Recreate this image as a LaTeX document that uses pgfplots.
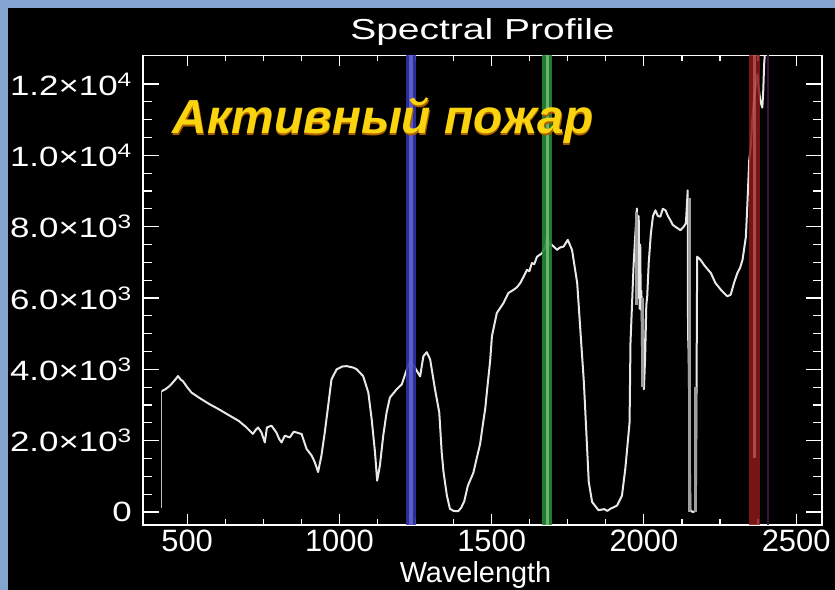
\documentclass[border=0pt]{standalone}
\usepackage{fontspec}
\setmainfont{Liberation Sans}
\newfontfamily\titlefont{Liberation Sans}[FakeStretch=1.35]
\newfontfamily\ylabfont{Liberation Sans}[FakeStretch=1.25]
\newfontfamily\rusfont{Liberation Sans}
\usepackage{pgfplots}
\pgfplotsset{compat=1.18}
\definecolor{bgblue}{RGB}{133,163,208}
\definecolor{curve}{RGB}{232,232,232}
\definecolor{bandblue}{RGB}{50,50,170}
\definecolor{bandblueL}{RGB}{105,105,215}
\definecolor{bandgreen}{RGB}{35,135,55}
\definecolor{bandgreenL}{RGB}{125,195,125}
\definecolor{bandred}{RGB}{140,25,25}
\definecolor{bandredL}{RGB}{205,110,110}
\definecolor{bandpurple}{RGB}{60,20,60}
\definecolor{fireyellow}{RGB}{250,212,15}
\definecolor{fireorange}{RGB}{170,95,0}
\begin{document}
\begin{tikzpicture}
\path[use as bounding box] (0,0) rectangle (835bp,590bp);
\fill[bgblue] (0,0) rectangle (835bp,590bp);
\fill[black] (7.5bp,0) rectangle (835bp,582bp);
\begin{axis}[
  at={(143bp,65bp)}, anchor=south west,
  scale only axis, width=679bp, height=469.5bp,
  xmin=355, xmax=2585, ymin=-365, ymax=12800,
  scaled y ticks=false, scaled x ticks=false,
  axis line style={draw=white, line width=1.5bp},
  every tick/.append style={draw=white, line width=1.2bp},
  major tick style={draw=white, line width=1.2bp},
  minor tick style={draw=white, line width=1.2bp},
  tick align=inside,
  major tick length=11bp, minor tick length=6bp,
  ytick style={/pgfplots/major tick length=16bp, /pgfplots/minor tick length=9bp},
  xtick={500,1000,1500,2000,2500},
  xticklabels={500,1000,1500,2000,2500},
  minor x tick num=3,
  ytick={0,2000,4000,6000,8000,10000,12000},
  yticklabels={0,2.0×10\textsuperscript{3},4.0×10\textsuperscript{3},6.0×10\textsuperscript{3},8.0×10\textsuperscript{3},1.0×10\textsuperscript{4},1.2×10\textsuperscript{4}},
  minor y tick num=3,
  xticklabel style={text=white, font=\fontsize{31}{33}\selectfont, anchor=north, inner sep=0pt, yshift=-5bp},
  yticklabel style={text=white, font=\ylabfont\fontsize{28}{30}\selectfont, anchor=east, inner sep=0pt, xshift=-11bp},
  title={\titlefont\fontsize{29}{32}\selectfont Spectral Profile},
  title style={at={(0.5,1)}, anchor=base, yshift=10bp, inner sep=0pt, text=white},
  xlabel={Wavelength},
  xlabel style={at={(0.5,0)}, anchor=north, yshift=-36bp, xshift=-7bp, inner sep=0pt, text=white, font=\fontsize{29}{31}\selectfont},
]
% faint start segment
\addplot[gray!55, line width=1.2bp] coordinates {(417,3390) (417,100)};
% spectral profile
\addplot[curve, line width=2bp, line join=round] coordinates {
(417,3390) (430,3450) (442,3530) (455,3650) (470,3810) (478,3720) (486,3670)
(500,3500) (514,3350) (540,3200) (574,3020) (600,2900) (640,2700) (670,2550)
(695,2370) (716,2190) (725,2300) (733,2370) (744,2230) (755,1950) (762,2370)
(777,2420) (793,2230) (802,2050) (810,1950) (821,2140) (837,2090) (850,2250)
(859,2230) (876,2185) (892,1770) (909,1580) (919,1400) (930,1120) (941,1580)
(952,2230) (963,2970) (974,3720) (991,4000) (1010,4080) (1024,4090) (1045,4050)
(1057,4000) (1078,3810) (1095,3350) (1106,2600) (1117,1670) (1124,880) (1133,1300)
(1144,2140) (1155,2790) (1166,3210) (1188,3440) (1205,3580) (1221,3990) (1232,4230)
(1248,4050) (1265,3800) (1276,4370) (1287,4480) (1298,4280) (1314,3440) (1328,2790)
(1336,1670) (1342,1120) (1353,460) (1363,90) (1375,30) (1390,20) (1400,120)
(1410,300) (1422,740) (1440,1100) (1453,1580) (1462,1900) (1472,2500) (1479,2900) (1486,3500)
(1495,4230) (1501,4930) (1517,5580) (1539,5860) (1555,6140) (1572,6230) (1583,6300)
(1594,6420) (1605,6600) (1616,6790) (1624,6750) (1632,6980) (1640,6950) (1649,7160)
(1665,7250) (1675,7400) (1682,7720) (1690,7500) (1698,7490) (1715,7350) (1725,7420)
(1736,7440) (1750,7630) (1764,7350) (1781,6420) (1792,5020) (1803,3630) (1811,2230)
(1819,840) (1830,280) (1851,50) (1870,80) (1880,30) (1890,90) (1912,180)
(1928,460) (1939,1210) (1953,2510) (1956,4740) (1966,6880) (1972,7800) (1977,8510)
(1980,6000) (1983,8300) (1986,5700) (1988,7500) (1990,5670) (1992,6200) (1994,4500) (1997,5500) (2000,3440) (2004,4300)
(2008,5800) (2011,6050) (2016,7000) (2023,7810) (2030,8300) (2038,8460) (2046,8300)
(2054,8280) (2062,8500) (2071,8460) (2079,8300) (2087,8180) (2095,8050) (2103,8000)
(2112,7950) (2120,7900) (2131,8000) (2138,8100) (2144,9020) (2145,5000) (2147,4460)
(2150,2000) (2153,50) (2160,0) (2168,20) (2171,500) (2173,3630) (2175,7160)
(2186,7070) (2200,6900) (2220,6700) (2235,6420) (2253,6230) (2263,6140) (2274,6050)
(2285,6090) (2296,6420) (2307,6700) (2316,6850) (2324,7070) (2335,7720) (2340,8650)
(2346,9860) (2351,10230) (2356,11000) (2362,11620) (2368,12000) (2373,12280) (2378,11810)
(2383,11500) (2389,11340) (2392,11800) (2395,12560) (2397,12800)
};
% dense parts drawn as thick grey bars
\addplot[gray!75, line width=3.5bp] coordinates {(1975,8400) (1975,5800)};
\addplot[gray!75, line width=3.5bp] coordinates {(1995,6000) (1995,3500)};
\addplot[gray!75, line width=3.5bp] coordinates {(2150,8800) (2150,0)};
\addplot[gray!75, line width=3.5bp] coordinates {(2169,3500) (2169,0)};
% band lines
\addplot[bandblue, line width=10bp, opacity=0.9] coordinates {(1235,-365) (1235,12800)};
\addplot[bandblueL, line width=3.5bp, opacity=0.8] coordinates {(1235,-365) (1235,12800)};
\addplot[bandgreen, line width=10bp, opacity=0.9] coordinates {(1683,-365) (1683,12800)};
\addplot[bandgreenL, line width=3.5bp, opacity=0.8] coordinates {(1683,-365) (1683,12800)};
\addplot[bandred, line width=11bp, opacity=0.85] coordinates {(2364,-365) (2364,12800)};
\addplot[bandredL, line width=3.5bp, opacity=0.6] coordinates {(2364,1500) (2364,12800)};
\addplot[bandpurple, line width=2bp] coordinates {(2406,-365) (2406,12800)};
% label
\node[anchor=base west, inner sep=0pt, text=fireorange, font=\rusfont\bfseries\itshape\fontsize{48}{52}\selectfont] at (axis cs:453,10570) {Активный пожар};
\node[anchor=base west, inner sep=0pt, text=fireyellow, font=\rusfont\bfseries\itshape\fontsize{48}{52}\selectfont] at (axis cs:452,10600) {Активный пожар};
\end{axis}
\end{tikzpicture}
\end{document}
